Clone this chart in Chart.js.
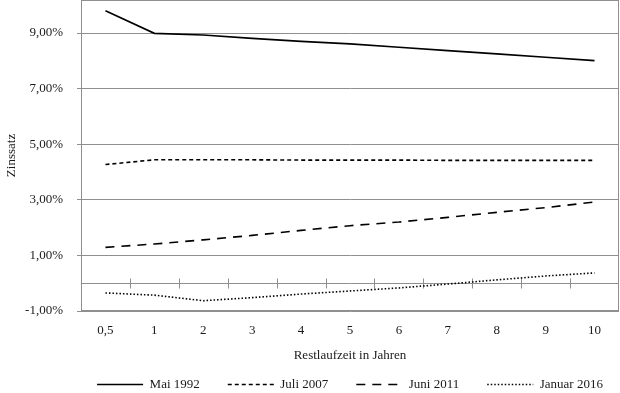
<!DOCTYPE html>
<html>
<head>
<meta charset="utf-8">
<script src="https://cdn.jsdelivr.net/npm/chart.js@4.4.0/dist/chart.umd.min.js"></script>
<style>
html, body { margin: 0; padding: 0; background: #ffffff; }
#c { display: block; }
</style>
</head>
<body>
<canvas id="c" width="620" height="393"></canvas>
<script>
// ---- data ----
const categories = ['0,5', '1', '2', '3', '4', '5', '6', '7', '8', '9', '10'];
const mai1992    = [9.80, 8.99, 8.93, 8.81, 8.70, 8.61, 8.49, 8.37, 8.25, 8.13, 8.01];
const juli2007   = [4.27, 4.44, 4.44, 4.44, 4.43, 4.43, 4.43, 4.42, 4.42, 4.42, 4.42];
const juni2011   = [1.29, 1.41, 1.56, 1.72, 1.90, 2.07, 2.20, 2.37, 2.55, 2.72, 2.92];
const januar2016 = [-0.35, -0.43, -0.63, -0.52, -0.39, -0.28, -0.17, -0.03, 0.12, 0.26, 0.37];
const yTickValues = [-1, 0, 1, 3, 5, 7, 9];
const seriesNames = ['Mai 1992', 'Juli 2007', 'Juni 2011', 'Januar 2016'];
const xTitle = 'Restlaufzeit in Jahren';
const yTitle = 'Zinssatz';

// ---- styling ----
const GRID = '#8f8f8f';
const TEXT = '#1a1a1a';
const FONT = { family: "'Liberation Serif', 'DejaVu Serif', serif", size: 13 };

const decoPlugin = {
  id: 'deco',
  afterLayout(chart) {
    const lg = chart.legend;
    if (lg) {
      lg.left = 60;
      lg.right = 640;
      lg.width = 580;
      lg.top = 350;
      lg.bottom = 393;
      lg.height = 43;
    }
  },
  beforeDatasetsDraw(chart) {
    const { ctx, chartArea: a, scales: { x, y } } = chart;
    ctx.save();
    ctx.strokeStyle = GRID;
    ctx.lineWidth = 1;
    ctx.strokeRect(a.left + 0.5, a.top + 0.5, a.right - a.left - 1, a.bottom - a.top - 1);
    const y0 = Math.round(y.getPixelForValue(0)) + 0.5;
    for (let i = 0; i < categories.length - 1; i++) {
      const xm = Math.round((x.getPixelForValue(i) + x.getPixelForValue(i + 1)) / 2) + 0.5;
      ctx.beginPath();
      ctx.moveTo(xm, y0 - 5);
      ctx.lineTo(xm, y0 + 5);
      ctx.stroke();
    }
    ctx.restore();
  }
};

const mk = (label, data, dash) => ({
  label, data,
  borderColor: '#000000',
  backgroundColor: '#000000',
  borderWidth: 1.6,
  borderDash: dash,
  pointRadius: 0,
  pointHoverRadius: 0,
  tension: 0,
  fill: false
});

new Chart(document.getElementById('c'), {
  type: 'line',
  data: {
    labels: categories,
    datasets: [
      mk(seriesNames[0], mai1992, []),
      mk(seriesNames[1], juli2007, [4, 3]),
      mk(seriesNames[2], juni2011, [9, 7]),
      mk(seriesNames[3], januar2016, [1.5, 2])
    ]
  },
  options: {
    responsive: false,
    animation: false,
    layout: { padding: { left: 0, right: 1, top: 0, bottom: 0 } },
    plugins: {
      tooltip: { enabled: false },
      legend: {
        position: 'bottom',
        maxHeight: 30,
        labels: {
          usePointStyle: true,
          pointStyle: 'line',
          pointStyleWidth: 46,
          padding: 28,
          color: TEXT,
          font: FONT,
          generateLabels: chart => {
            const items = Chart.defaults.plugins.legend.labels.generateLabels(chart);
            items.forEach(it => {
              const ds = chart.data.datasets[it.datasetIndex];
              it.lineDash = ds.borderDash;
              it.lineWidth = ds.borderWidth;
              it.strokeStyle = ds.borderColor;
              it.pointStyle = 'line';
            });
            return items;
          }
        }
      }
    },
    scales: {
      x: {
        offset: true,
        grid: { display: false, drawTicks: false },
        border: { display: false },
        ticks: { padding: 12, color: TEXT, font: FONT, maxRotation: 0, autoSkip: false },
        title: { display: true, text: xTitle, color: TEXT, font: FONT, padding: { top: 4, bottom: 0 } },
        afterFit: s => { s.height = 52; s.paddingLeft = 0; s.paddingRight = 0; }
      },
      y: {
        min: -1,
        max: 10.19,
        afterBuildTicks: s => { s.ticks = yTickValues.map(v => ({ value: v })); },
        afterFit: s => { s.width = 81; s.paddingTop = 0; s.paddingBottom = 0; },
        border: { display: true, color: GRID, width: 1 },
        grid: {
          color: GRID,
          lineWidth: 1,
          drawTicks: true,
          tickLength: 4,
          tickColor: c => (c.tick && c.tick.value === 0) ? 'rgba(0,0,0,0)' : GRID
        },
        ticks: {
          padding: 14,
          color: TEXT,
          font: FONT,
          callback: v => v === 0 ? '' : v.toFixed(2).replace('.', ',') + '%'
        },
        title: { display: true, text: yTitle, color: TEXT, font: FONT }
      }
    }
  },
  plugins: [decoPlugin]
});
</script>
</body>
</html>
